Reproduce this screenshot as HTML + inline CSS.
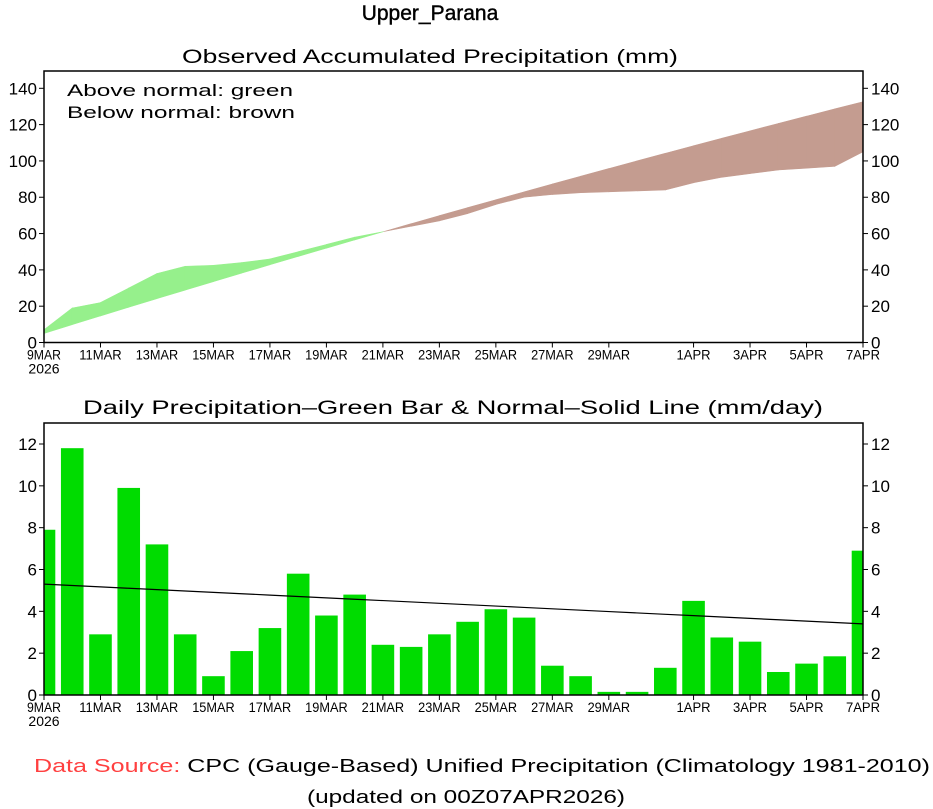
<!DOCTYPE html>
<html><head><meta charset="utf-8"><style>
body{margin:0;background:#fff}
svg{display:block}
text{font-family:"Liberation Sans",sans-serif;fill:#000}
</style></head><body>
<svg id="s" width="933" height="809" xmlns="http://www.w3.org/2000/svg"></svg>
<script>
const d=[7.9,11.8,2.9,9.9,7.2,2.9,0.9,2.1,3.2,5.8,3.8,4.8,2.4,2.3,2.9,3.5,4.1,3.7,1.4,0.9,0.15,0.15,1.3,4.5,2.75,2.55,1.1,1.5,1.85,6.9];
const n=d.map((v,i)=>5.3-1.9*i/29);
const X0=44,X1=863,dx=(X1-X0)/29;
const xs=i=>X0+i*dx;
const o=[7,19,22,30,38,42,42.5,44,46,50,54,58,61,64,67,71,76,80,81.5,82.5,83,83.5,84,88,91,93,95,96,97,105];
const c=o.map((_,i)=>5+4.85*i-0.0155*i*i);
const T0=342.5,Tk=(342.5-88.3)/140,ty=v=>T0-v*Tk;
const B0=695,Bk=(695-444)/12,by=v=>B0-v*Bk;
let h='';
for(let i=0;i<29;i++){
 const a1=o[i]-c[i],a2=o[i+1]-c[i+1];
 const seg=(x1,o1,c1,x2,o2,c2,col)=>`<polygon points="${x1},${ty(o1)} ${x2},${ty(o2)} ${x2},${ty(c2)} ${x1},${ty(c1)}" fill="${col}" stroke="${col}" stroke-width="0.6"/>`;
 if(a1*a2>=0){h+=seg(xs(i),o[i],c[i],xs(i+1),o[i+1],c[i+1],(a1+a2)>=0?'#96f08c':'#c49c90');}
 else{const f=a1/(a1-a2),xm=xs(i)+f*dx,vm=o[i]+f*(o[i+1]-o[i]);
  h+=seg(xs(i),o[i],c[i],xm,vm,vm,a1>0?'#96f08c':'#c49c90');
  h+=seg(xm,vm,vm,xs(i+1),o[i+1],c[i+1],a2>0?'#96f08c':'#c49c90');}
}
d.forEach((v,i)=>{let x1=Math.max(X0,xs(i)-11.3),x2=Math.min(X1,xs(i)+11.3);h+=`<rect x="${x1}" y="${by(v)}" width="${x2-x1}" height="${B0-by(v)}" fill="#00dc00"/>`;});
h+=`<polyline points="${n.map((v,i)=>xs(i)+','+by(v)).join(' ')}" fill="none" stroke="#000" stroke-width="1.2"/>`;
h+=`<rect x="${X0}" y="71" width="${X1-X0}" height="${T0-71}" fill="none" stroke="#000" stroke-width="1.5"/>`;
h+=`<rect x="${X0}" y="423" width="${X1-X0}" height="${B0-423}" fill="none" stroke="#000" stroke-width="1.5"/>`;
for(let v=0;v<=140;v+=20){const y=ty(v);h+=`<line x1="${X0-5}" x2="${X0}" y1="${y}" y2="${y}" stroke="#000"/><line x1="${X1}" x2="${X1+5}" y1="${y}" y2="${y}" stroke="#000"/><text x="${X0-7}" y="${y+6}" font-size="17" text-anchor="end">${v}</text><text x="${X1+8}" y="${y+6}" font-size="17">${v}</text>`;}
for(let v=0;v<=12;v+=2){const y=by(v);h+=`<line x1="${X0-5}" x2="${X0}" y1="${y}" y2="${y}" stroke="#000"/><line x1="${X1}" x2="${X1+5}" y1="${y}" y2="${y}" stroke="#000"/><text x="${X0-7}" y="${y+6}" font-size="17" text-anchor="end">${v}</text><text x="${X1+8}" y="${y+6}" font-size="17">${v}</text>`;}
const labs=[[0,'9MAR'],[2,'11MAR'],[4,'13MAR'],[6,'15MAR'],[8,'17MAR'],[10,'19MAR'],[12,'21MAR'],[14,'23MAR'],[16,'25MAR'],[18,'27MAR'],[20,'29MAR'],[23,'1APR'],[25,'3APR'],[27,'5APR'],[29,'7APR']];
[T0,B0].forEach(Y=>{labs.forEach(([i,l])=>{const x=xs(i);h+=`<line x1="${x}" x2="${x}" y1="${Y}" y2="${Y+5}" stroke="#000"/><text x="${x}" y="${Y+17}" font-size="14" text-anchor="middle" textLength="${l.length*8.5}" lengthAdjust="spacingAndGlyphs">${l}</text>`;});
 h+=`<text x="${X0}" y="${Y+31}" font-size="14" text-anchor="middle">2026</text>`;});
h+=`<text x="430" y="20" font-size="21" text-anchor="middle" stroke="#000" stroke-width="0.4">Upper_Parana</text>`;
h+=`<text x="430" y="63" font-size="19" text-anchor="middle" textLength="496" lengthAdjust="spacingAndGlyphs">Observed Accumulated Precipitation (mm)</text>`;
h+=`<text x="67" y="96" font-size="17" textLength="226" lengthAdjust="spacingAndGlyphs">Above normal: green</text>`;
h+=`<text x="67" y="118" font-size="17" textLength="228" lengthAdjust="spacingAndGlyphs">Below normal: brown</text>`;
h+=`<text x="453" y="414" font-size="19" text-anchor="middle" textLength="740" lengthAdjust="spacingAndGlyphs">Daily Precipitation–Green Bar &amp; Normal–Solid Line (mm/day)</text>`;
h+=`<text x="34" y="772" font-size="18" textLength="896" lengthAdjust="spacingAndGlyphs"><tspan fill="#ff4040">Data Source:</tspan> CPC (Gauge-Based) Unified Precipitation (Climatology 1981-2010)</text>`;
h+=`<text x="466" y="803" font-size="18" text-anchor="middle" textLength="318" lengthAdjust="spacingAndGlyphs">(updated on 00Z07APR2026)</text>`;
document.getElementById('s').innerHTML=h;
</script>
</body></html>
